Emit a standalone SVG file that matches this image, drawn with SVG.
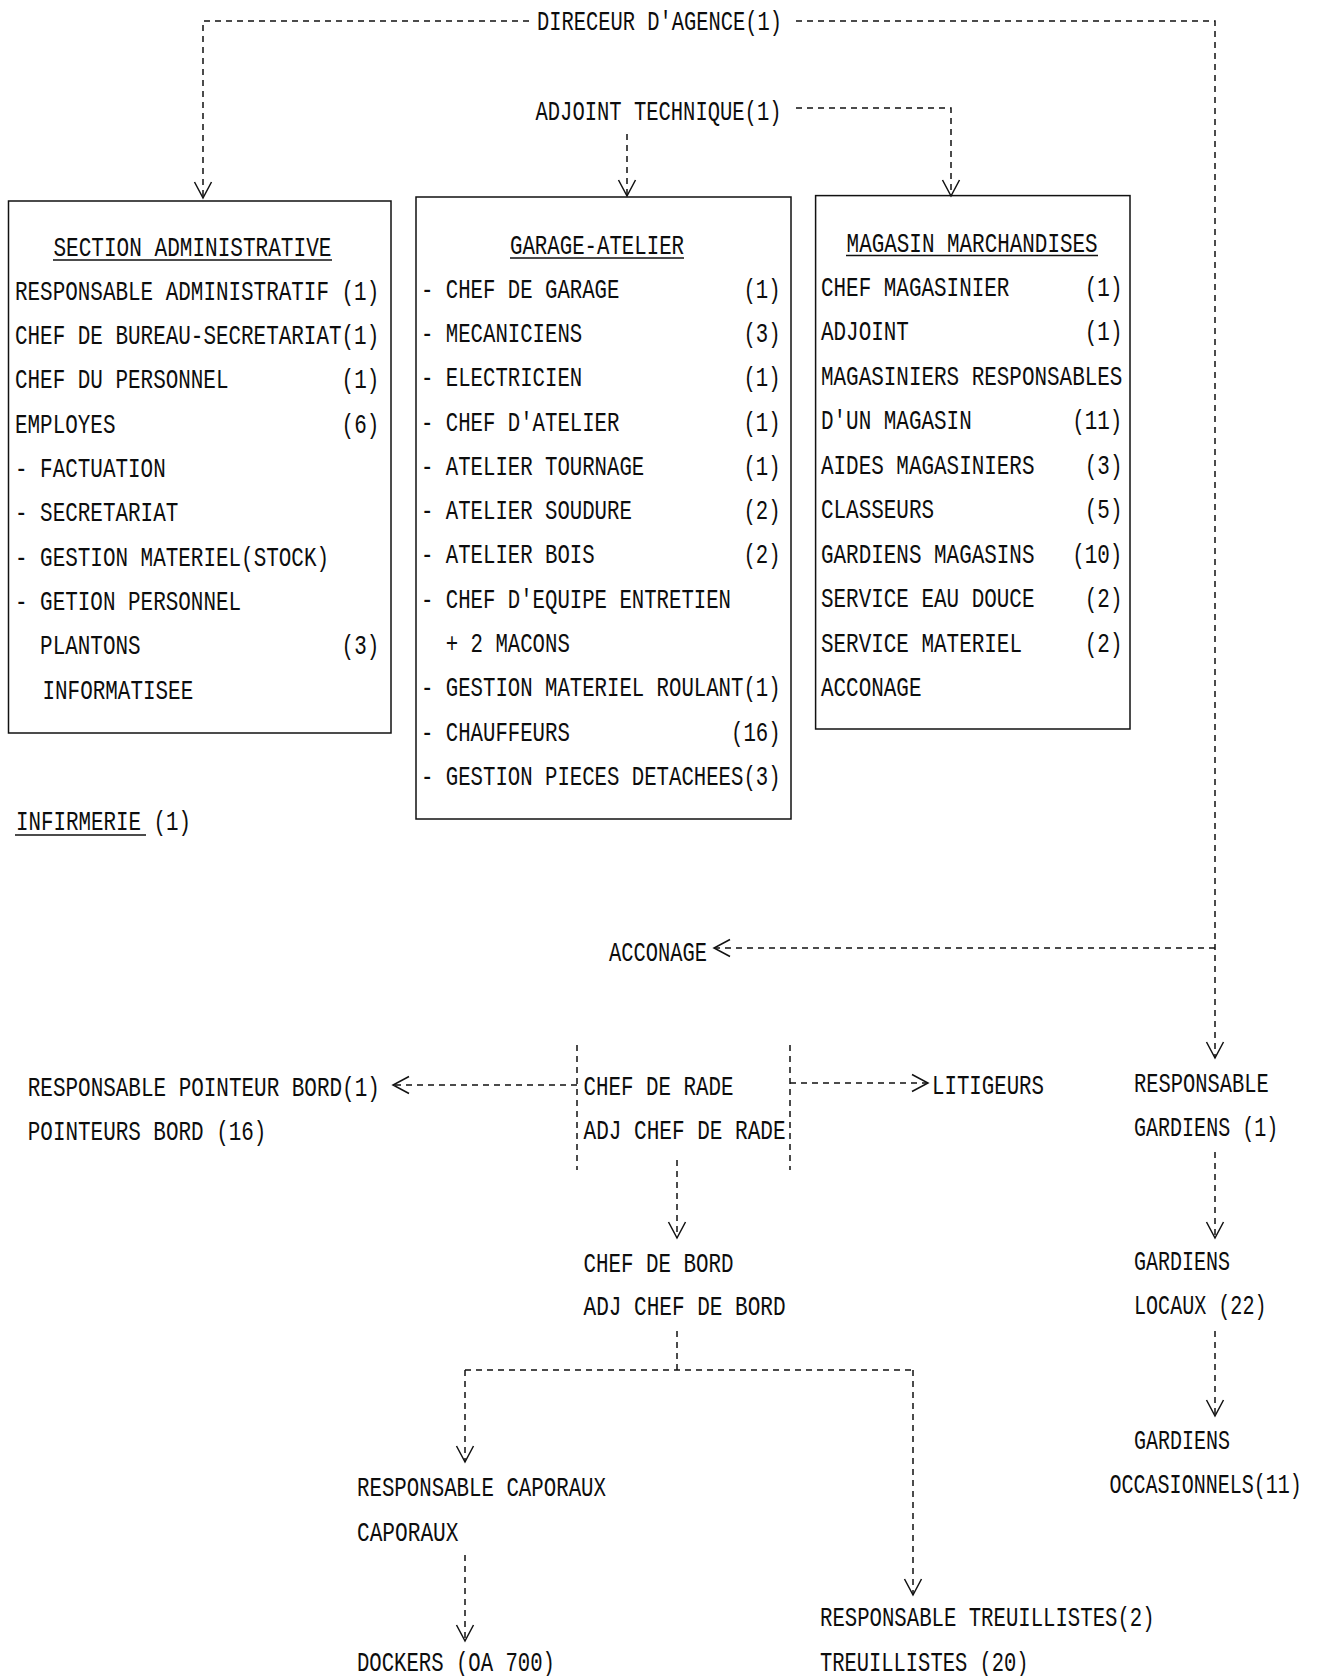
<svg xmlns="http://www.w3.org/2000/svg" width="1319" height="1676" viewBox="0 0 1319 1676">
<style>
.t{font-family:"Liberation Mono","DejaVu Sans Mono",monospace;font-size:20.8px;fill:#0d0d0d}
.box{fill:none;stroke:#111;stroke-width:1.5}
.c{fill:none;stroke:#111;stroke-width:1.5;stroke-dasharray:6 5}
.u{stroke:#111;stroke-width:1.4}
</style>
<defs>
<marker id="ah" markerUnits="userSpaceOnUse" markerWidth="20" markerHeight="20" viewBox="-18 -10 20 20" refX="0" refY="0" orient="auto">
<path d="M-16,-8.5 L0,0 L-16,8.5" fill="none" stroke="#111" stroke-width="1.5"/>
</marker>
</defs>
<rect width="1319" height="1676" fill="#fff"/>

<g id="connectors">
<path class="c" d="M529,21 H203 V198" marker-end="url(#ah)"/>
<path class="c" d="M796,21 H1215 V1058" marker-end="url(#ah)"/>
<path class="c" d="M1215,948 H714" marker-end="url(#ah)"/>
<path class="c" d="M627,134 V196" marker-end="url(#ah)"/>
<path class="c" d="M796,108 H951 V196" marker-end="url(#ah)"/>
<path class="c" d="M577,1085 H393" marker-end="url(#ah)"/>
<path class="c" d="M790,1083 H928" marker-end="url(#ah)"/>
<path class="c" d="M677,1160 V1238" marker-end="url(#ah)"/>
<path class="c" d="M677,1331 V1370"/>
<path class="c" d="M465,1370 H913"/>
<path class="c" d="M465,1370 V1462" marker-end="url(#ah)"/>
<path class="c" d="M913,1370 V1595" marker-end="url(#ah)"/>
<path class="c" d="M465,1555 V1641" marker-end="url(#ah)"/>
<path class="c" d="M1215,1152 V1238" marker-end="url(#ah)"/>
<path class="c" d="M1215,1331 V1416" marker-end="url(#ah)"/>
</g>

<g id="directeur">
<text class="t" transform="translate(537 30) scale(1 1.3)" textLength="245" lengthAdjust="spacingAndGlyphs">DIRECEUR D'AGENCE(1)</text>
</g>
<g id="adjoint-technique">
<text class="t" transform="translate(535.5 120) scale(1 1.3)" textLength="246" lengthAdjust="spacingAndGlyphs">ADJOINT TECHNIQUE(1)</text>
</g>

<g id="section-administrative">
<rect class="box" x="8.5" y="201" width="382.5" height="532"/>
<text class="t" transform="translate(53.4 256) scale(1 1.3)" textLength="278" lengthAdjust="spacingAndGlyphs">SECTION ADMINISTRATIVE</text>
<line class="u" x1="53" y1="260" x2="332" y2="260"/>
<text class="t" transform="translate(15 299.5) scale(1 1.3)" textLength="364.2" lengthAdjust="spacingAndGlyphs">RESPONSABLE ADMINISTRATIF (1)</text>
<text class="t" transform="translate(15 343.9) scale(1 1.3)" textLength="364.2" lengthAdjust="spacingAndGlyphs">CHEF DE BUREAU-SECRETARIAT(1)</text>
<text class="t" transform="translate(15 388.2) scale(1 1.3)" textLength="213.5" lengthAdjust="spacingAndGlyphs">CHEF DU PERSONNEL</text>
<text class="t" transform="translate(341.6 388.2) scale(1 1.3)" textLength="37.7" lengthAdjust="spacingAndGlyphs">(1)</text>
<text class="t" transform="translate(15 432.6) scale(1 1.3)" textLength="100.5" lengthAdjust="spacingAndGlyphs">EMPLOYES</text>
<text class="t" transform="translate(341.6 432.6) scale(1 1.3)" textLength="37.7" lengthAdjust="spacingAndGlyphs">(6)</text>
<text class="t" transform="translate(15 476.9) scale(1 1.3)" textLength="150.7" lengthAdjust="spacingAndGlyphs">- FACTUATION</text>
<text class="t" transform="translate(15 521.3) scale(1 1.3)" textLength="163.3" lengthAdjust="spacingAndGlyphs">- SECRETARIAT</text>
<text class="t" transform="translate(15 565.6) scale(1 1.3)" textLength="314" lengthAdjust="spacingAndGlyphs">- GESTION MATERIEL(STOCK)</text>
<text class="t" transform="translate(15 610) scale(1 1.3)" textLength="226.1" lengthAdjust="spacingAndGlyphs">- GETION PERSONNEL</text>
<text class="t" transform="translate(40.1 654.3) scale(1 1.3)" textLength="100.5" lengthAdjust="spacingAndGlyphs">PLANTONS</text>
<text class="t" transform="translate(341.6 654.3) scale(1 1.3)" textLength="37.7" lengthAdjust="spacingAndGlyphs">(3)</text>
<text class="t" transform="translate(42.5 698.7) scale(1 1.3)" textLength="150.7" lengthAdjust="spacingAndGlyphs">INFORMATISEE</text>
</g>

<g id="garage-atelier">
<rect class="box" x="416" y="197" width="375" height="622"/>
<text class="t" transform="translate(510 254) scale(1 1.3)" textLength="174" lengthAdjust="spacingAndGlyphs">GARAGE-ATELIER</text>
<line class="u" x1="510" y1="258" x2="684" y2="258"/>
<text class="t" transform="translate(421 297.6) scale(1 1.3)" textLength="198.4" lengthAdjust="spacingAndGlyphs">- CHEF DE GARAGE</text>
<text class="t" transform="translate(743.4 297.6) scale(1 1.3)" textLength="37.2" lengthAdjust="spacingAndGlyphs">(1)</text>
<text class="t" transform="translate(421 341.9) scale(1 1.3)" textLength="161.2" lengthAdjust="spacingAndGlyphs">- MECANICIENS</text>
<text class="t" transform="translate(743.4 341.9) scale(1 1.3)" textLength="37.2" lengthAdjust="spacingAndGlyphs">(3)</text>
<text class="t" transform="translate(421 386.2) scale(1 1.3)" textLength="161.2" lengthAdjust="spacingAndGlyphs">- ELECTRICIEN</text>
<text class="t" transform="translate(743.4 386.2) scale(1 1.3)" textLength="37.2" lengthAdjust="spacingAndGlyphs">(1)</text>
<text class="t" transform="translate(421 430.5) scale(1 1.3)" textLength="198.4" lengthAdjust="spacingAndGlyphs">- CHEF D'ATELIER</text>
<text class="t" transform="translate(743.4 430.5) scale(1 1.3)" textLength="37.2" lengthAdjust="spacingAndGlyphs">(1)</text>
<text class="t" transform="translate(421 474.8) scale(1 1.3)" textLength="223.2" lengthAdjust="spacingAndGlyphs">- ATELIER TOURNAGE</text>
<text class="t" transform="translate(743.4 474.8) scale(1 1.3)" textLength="37.2" lengthAdjust="spacingAndGlyphs">(1)</text>
<text class="t" transform="translate(421 519.1) scale(1 1.3)" textLength="210.8" lengthAdjust="spacingAndGlyphs">- ATELIER SOUDURE</text>
<text class="t" transform="translate(743.4 519.1) scale(1 1.3)" textLength="37.2" lengthAdjust="spacingAndGlyphs">(2)</text>
<text class="t" transform="translate(421 563.4) scale(1 1.3)" textLength="173.6" lengthAdjust="spacingAndGlyphs">- ATELIER BOIS</text>
<text class="t" transform="translate(743.4 563.4) scale(1 1.3)" textLength="37.2" lengthAdjust="spacingAndGlyphs">(2)</text>
<text class="t" transform="translate(421 607.7) scale(1 1.3)" textLength="310" lengthAdjust="spacingAndGlyphs">- CHEF D'EQUIPE ENTRETIEN</text>
<text class="t" transform="translate(445.8 652) scale(1 1.3)" textLength="124" lengthAdjust="spacingAndGlyphs">+ 2 MACONS</text>
<text class="t" transform="translate(421 696.3) scale(1 1.3)" textLength="359.6" lengthAdjust="spacingAndGlyphs">- GESTION MATERIEL ROULANT(1)</text>
<text class="t" transform="translate(421 740.6) scale(1 1.3)" textLength="148.8" lengthAdjust="spacingAndGlyphs">- CHAUFFEURS</text>
<text class="t" transform="translate(731 740.6) scale(1 1.3)" textLength="49.6" lengthAdjust="spacingAndGlyphs">(16)</text>
<text class="t" transform="translate(421 784.9) scale(1 1.3)" textLength="359.6" lengthAdjust="spacingAndGlyphs">- GESTION PIECES DETACHEES(3)</text>
</g>

<g id="magasin-marchandises">
<rect class="box" x="815.6" y="195.6" width="314.4" height="533.4"/>
<text class="t" transform="translate(846.6 251.6) scale(1 1.3)" textLength="251" lengthAdjust="spacingAndGlyphs">MAGASIN MARCHANDISES</text>
<line class="u" x1="846" y1="255.5" x2="1098" y2="255.5"/>
<text class="t" transform="translate(821 295.5) scale(1 1.3)" textLength="188.4" lengthAdjust="spacingAndGlyphs">CHEF MAGASINIER</text>
<text class="t" transform="translate(1084.8 295.5) scale(1 1.3)" textLength="37.7" lengthAdjust="spacingAndGlyphs">(1)</text>
<text class="t" transform="translate(821 340) scale(1 1.3)" textLength="87.9" lengthAdjust="spacingAndGlyphs">ADJOINT</text>
<text class="t" transform="translate(1084.8 340) scale(1 1.3)" textLength="37.7" lengthAdjust="spacingAndGlyphs">(1)</text>
<text class="t" transform="translate(821 384.5) scale(1 1.3)" textLength="301.4" lengthAdjust="spacingAndGlyphs">MAGASINIERS RESPONSABLES</text>
<text class="t" transform="translate(821 429) scale(1 1.3)" textLength="150.7" lengthAdjust="spacingAndGlyphs">D'UN MAGASIN</text>
<text class="t" transform="translate(1072.2 429) scale(1 1.3)" textLength="50.2" lengthAdjust="spacingAndGlyphs">(11)</text>
<text class="t" transform="translate(821 473.5) scale(1 1.3)" textLength="213.5" lengthAdjust="spacingAndGlyphs">AIDES MAGASINIERS</text>
<text class="t" transform="translate(1084.8 473.5) scale(1 1.3)" textLength="37.7" lengthAdjust="spacingAndGlyphs">(3)</text>
<text class="t" transform="translate(821 518) scale(1 1.3)" textLength="113" lengthAdjust="spacingAndGlyphs">CLASSEURS</text>
<text class="t" transform="translate(1084.8 518) scale(1 1.3)" textLength="37.7" lengthAdjust="spacingAndGlyphs">(5)</text>
<text class="t" transform="translate(821 562.5) scale(1 1.3)" textLength="213.5" lengthAdjust="spacingAndGlyphs">GARDIENS MAGASINS</text>
<text class="t" transform="translate(1072.2 562.5) scale(1 1.3)" textLength="50.2" lengthAdjust="spacingAndGlyphs">(10)</text>
<text class="t" transform="translate(821 607) scale(1 1.3)" textLength="213.5" lengthAdjust="spacingAndGlyphs">SERVICE EAU DOUCE</text>
<text class="t" transform="translate(1084.8 607) scale(1 1.3)" textLength="37.7" lengthAdjust="spacingAndGlyphs">(2)</text>
<text class="t" transform="translate(821 651.5) scale(1 1.3)" textLength="201" lengthAdjust="spacingAndGlyphs">SERVICE MATERIEL</text>
<text class="t" transform="translate(1084.8 651.5) scale(1 1.3)" textLength="37.7" lengthAdjust="spacingAndGlyphs">(2)</text>
<text class="t" transform="translate(821 696) scale(1 1.3)" textLength="100.5" lengthAdjust="spacingAndGlyphs">ACCONAGE</text>
</g>

<g id="infirmerie">
<text class="t" transform="translate(16 830) scale(1 1.3)" textLength="175" lengthAdjust="spacingAndGlyphs">INFIRMERIE (1)</text>
<line class="u" x1="15" y1="835" x2="146" y2="835"/>
</g>

<g id="acconage">
<text class="t" transform="translate(609 961) scale(1 1.3)" textLength="98" lengthAdjust="spacingAndGlyphs">ACCONAGE</text>
</g>

<g id="chef-de-rade">
<path class="c" d="M577,1045 V1170 M790,1045 V1170"/>
<text class="t" transform="translate(583.6 1095) scale(1 1.3)" textLength="150" lengthAdjust="spacingAndGlyphs">CHEF DE RADE</text>
<text class="t" transform="translate(583.6 1139) scale(1 1.3)" textLength="202" lengthAdjust="spacingAndGlyphs">ADJ CHEF DE RADE</text>
</g>

<g id="pointeurs-bord">
<text class="t" transform="translate(27.8 1096) scale(1 1.3)" textLength="352" lengthAdjust="spacingAndGlyphs">RESPONSABLE POINTEUR BORD(1)</text>
<text class="t" transform="translate(27.8 1140) scale(1 1.3)" textLength="238.6" lengthAdjust="spacingAndGlyphs">POINTEURS BORD (16)</text>
</g>

<g id="litigeurs">
<text class="t" transform="translate(932 1094) scale(1 1.3)" textLength="112" lengthAdjust="spacingAndGlyphs">LITIGEURS</text>
</g>

<g id="chef-de-bord">
<text class="t" transform="translate(583.6 1272) scale(1 1.3)" textLength="150" lengthAdjust="spacingAndGlyphs">CHEF DE BORD</text>
<text class="t" transform="translate(583.6 1315) scale(1 1.3)" textLength="202" lengthAdjust="spacingAndGlyphs">ADJ CHEF DE BORD</text>
</g>

<g id="caporaux">
<text class="t" transform="translate(357 1496) scale(1 1.3)" textLength="249" lengthAdjust="spacingAndGlyphs">RESPONSABLE CAPORAUX</text>
<text class="t" transform="translate(357 1541) scale(1 1.3)" textLength="101.5" lengthAdjust="spacingAndGlyphs">CAPORAUX</text>
</g>

<g id="dockers">
<text class="t" transform="translate(357 1671) scale(1 1.3)" textLength="198" lengthAdjust="spacingAndGlyphs">DOCKERS (OA 700)</text>
</g>

<g id="treuillistes">
<text class="t" transform="translate(820 1626) scale(1 1.3)" textLength="334.6" lengthAdjust="spacingAndGlyphs">RESPONSABLE TREUILLISTES(2)</text>
<text class="t" transform="translate(820 1671) scale(1 1.3)" textLength="208.5" lengthAdjust="spacingAndGlyphs">TREUILLISTES (20)</text>
</g>

<g id="responsable-gardiens">
<text class="t" transform="translate(1134 1092) scale(1 1.3)" textLength="134.7" lengthAdjust="spacingAndGlyphs">RESPONSABLE</text>
<text class="t" transform="translate(1134 1136) scale(1 1.3)" textLength="144.3" lengthAdjust="spacingAndGlyphs">GARDIENS (1)</text>
</g>

<g id="gardiens-locaux">
<text class="t" transform="translate(1134 1270) scale(1 1.3)" textLength="96" lengthAdjust="spacingAndGlyphs">GARDIENS</text>
<text class="t" transform="translate(1134 1314) scale(1 1.3)" textLength="132.5" lengthAdjust="spacingAndGlyphs">LOCAUX (22)</text>
</g>

<g id="gardiens-occasionnels">
<text class="t" transform="translate(1134 1449) scale(1 1.3)" textLength="96" lengthAdjust="spacingAndGlyphs">GARDIENS</text>
<text class="t" transform="translate(1109.5 1493) scale(1 1.3)" textLength="192.4" lengthAdjust="spacingAndGlyphs">OCCASIONNELS(11)</text>
</g>
</svg>
